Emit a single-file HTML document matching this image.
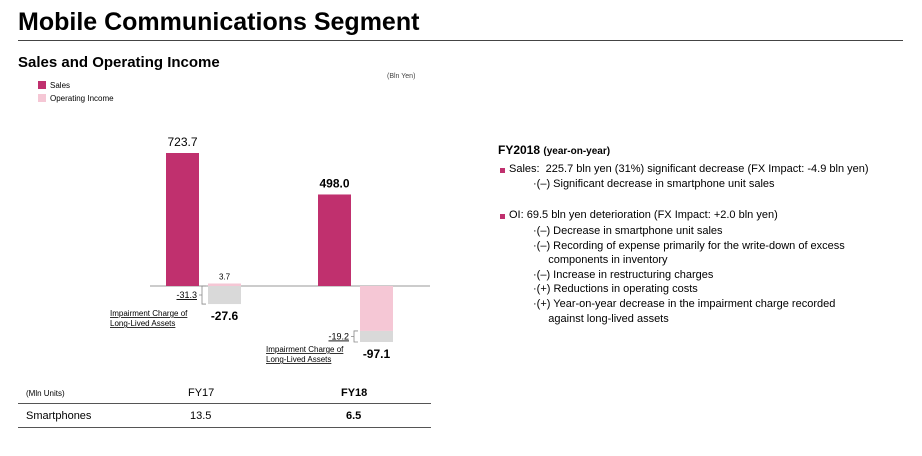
<!DOCTYPE html>
<html><head><meta charset="utf-8">
<style>
body{margin:0;width:922px;height:456px;background:#fff;font-family:"Liberation Sans",Arial,sans-serif;color:#000;position:relative;overflow:hidden}
.a{position:absolute;white-space:nowrap}
.sq{display:inline-block;width:8px;height:8px;vertical-align:-1px;margin-right:4px}
.r{font-size:11px}
</style></head><body>
<div class="a" style="left:18px;top:8px;font-size:25px;font-weight:bold">Mobile Communications Segment</div>
<div class="a" style="left:18px;top:40px;width:885px;height:1px;background:#444"></div>
<div class="a" style="left:18px;top:54px;font-size:15px;font-weight:bold">Sales and Operating Income</div>
<div class="a" style="left:387px;top:73px;font-size:7px;color:#444">(Bln Yen)</div>
<div class="a" style="left:38px;top:81px;font-size:8px"><span class="sq" style="background:#c0306e"></span>Sales</div>
<div class="a" style="left:38px;top:94px;font-size:8px"><span class="sq" style="background:#f5c7d5"></span>Operating Income</div>

<svg class="a" style="left:0;top:0" width="922" height="456" id="chart"></svg>

<div class="a" style="left:498px;top:143px;font-size:12px;font-weight:bold">FY2018 <span style="font-size:10px">(year-on-year)</span></div>
<div class="a r" style="left:500px;top:163px"><span class="sq" style="background:#c0306e;width:5px;height:5px"></span>Sales:&nbsp; 225.7 bln yen (31%) significant decrease (FX Impact: -4.9 bln yen)</div>
<div class="a r" style="left:533px;top:178px">·(–) Significant decrease in smartphone unit sales</div>
<div class="a r" style="left:500px;top:209px"><span class="sq" style="background:#c0306e;width:5px;height:5px"></span>OI: 69.5 bln yen deterioration (FX Impact: +2.0 bln yen)</div>
<div class="a r" style="left:533px;top:224px;line-height:14.6px">·(–) Decrease in smartphone unit sales<br>·(–) Recording of expense primarily for the write-down of excess<br>&nbsp;&nbsp;&nbsp;&nbsp;&nbsp;components in inventory<br>·(–) Increase in restructuring charges<br>·(+) Reductions in operating costs<br>·(+) Year-on-year decrease in the impairment charge recorded<br>&nbsp;&nbsp;&nbsp;&nbsp;&nbsp;against long-lived assets</div>

<div class="a" style="left:26px;top:389px;font-size:8px">(Mln Units)</div>
<div class="a" style="left:188px;top:387px;font-size:11px">FY17</div>
<div class="a" style="left:341px;top:387px;font-size:11px;font-weight:bold">FY18</div>
<div class="a" style="left:18px;top:403px;width:413px;height:1px;background:#555"></div>
<div class="a" style="left:26px;top:410px;font-size:11px">Smartphones</div>
<div class="a" style="left:190px;top:410px;font-size:11px">13.5</div>
<div class="a" style="left:346px;top:410px;font-size:11px;font-weight:bold">6.5</div>
<div class="a" style="left:18px;top:427px;width:413px;height:1px;background:#555"></div>

<script>
const years=["FY17","FY18"];
const sales=[723.7,498.0];
const oi=[-27.6,-97.1];
const impairment=[-31.3,-19.2];
const svg=document.getElementById('chart');
const NS='http://www.w3.org/2000/svg';
const base=286, sScale=133/723.7, oScale=56/97.1;
const xS=[166,318], xO=[208,360], bw=33;
function el(t,a){const e=document.createElementNS(NS,t);for(const k in a)e.setAttribute(k,a[k]);svg.appendChild(e);return e;}
const ax=el('line',{x1:150,x2:430,y1:base,y2:base,stroke:'#999','stroke-width':1});


function txt(x,y,s,o){const t=el('text',Object.assign({x:x,y:y,'font-family':'Liberation Sans, Arial, sans-serif','font-size':12,'text-anchor':'middle'},o||{}));t.textContent=s;return t;}
years.forEach((yr,i)=>{
  const h=sales[i]*sScale;
  const b=el('rect',{x:xS[i],y:base-h,width:bw,height:h,fill:'#c0306e'});
  
  
  const l=txt(xS[i]+bw/2,base-h-7,sales[i].toFixed(1),{'font-weight':i?'bold':'normal'});
  
  
  const ex=oi[i]-impairment[i];
  const imp=-impairment[i]*oScale;
  let top;
  if(ex>=0){
    const ph=Math.max(ex*oScale,2.5);
    const p=el('rect',{x:xO[i],y:base-ph,width:bw,height:ph,fill:'#f5c7d5'});
    
    
    const pl=txt(xO[i]+bw/2,base-ph-4,ex.toFixed(1),{'font-size':8});
    
    
    top=base;
  } else {
    const ph=-ex*oScale;
    const p=el('rect',{x:xO[i],y:base,width:bw,height:ph,fill:'#f5c7d5'});
    
    
    top=base+ph;
  }
  const g=el('rect',{x:xO[i],y:top,width:bw,height:imp,fill:'#d9d9d9'});
  
  
  el('path',{d:`M${xO[i]-2} ${top} h-4 v${imp} h4 M${xO[i]-6} ${top+imp/2} h-3`,stroke:'#888',fill:'none','stroke-width':0.8});
  const il=txt(xO[i]-11,top+imp/2+3,impairment[i].toFixed(1),{'font-size':9,'text-anchor':'end','text-decoration':'underline'});
  
  
  const nx=i?266:110, ny=top+imp+(i?10:12);
  txt(nx,ny,'Impairment Charge of',{'font-size':8,'text-anchor':'start','text-decoration':'underline'});
  txt(nx,ny+10,'Long-Lived Assets',{'font-size':8,'text-anchor':'start','text-decoration':'underline'});
  const ol=txt(xO[i]+bw/2,top+imp+16,oi[i].toFixed(1),{'font-weight':'bold'});
  
  
});
</script>
</body></html>
